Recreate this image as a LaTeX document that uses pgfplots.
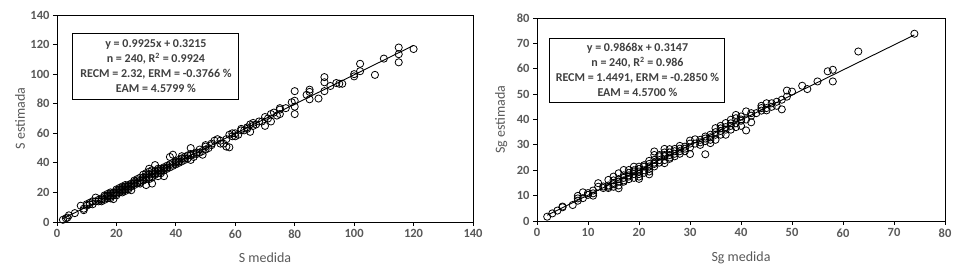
\documentclass[border=0pt]{standalone}
\usepackage{fontspec}
\setmainfont{Carlito}
\usepackage{pgfplots}
\pgfplotsset{compat=1.18}
\definecolor{txtgray}{HTML}{595959}
\definecolor{boxgray}{HTML}{404040}
\tikzset{infobox/.style={draw=black, line width=1pt, fill=white, align=center,
    inner sep=2pt, font=\fontsize{12}{15}\selectfont\bfseries, text=boxgray}}
\begin{document}
\begin{tikzpicture}
\useasboundingbox (0pt,0pt) rectangle (958pt,270pt);
\pgfplotsset{
  myax/.style={
    scale only axis,
    axis line style={black, line width=0.9pt},
    tick align=outside,
    major tick length=4pt,
    tick style={black, line width=0.8pt},
    xtick pos=bottom, ytick pos=left,
    ticklabel style={font=\fontsize{12.5}{14}\selectfont\bfseries, text=txtgray},
    /pgf/number format/assume math mode=true,
    label style={font=\fontsize{14}{16}\selectfont, text=txtgray},
    clip=false,
  },
  pts/.style={only marks, mark=o, mark size=3.6pt, black, mark options={line width=0.8pt}},
  fitl/.style={black, line width=0.9pt, no marks},
}
\begin{axis}[myax,
  at={(57pt,48pt)}, anchor=south west,
  width=416pt, height=207pt,
  xmin=0, xmax=140, ymin=0, ymax=140,
  xtick={0,20,...,140}, ytick={0,20,...,140},
  xlabel={S medida}, ylabel={S estimada},
  xlabel style={at={(axis description cs:0.5,-0.174)}, anchor=center},
  ylabel style={at={(axis description cs:-0.089,0.5)}, anchor=center},
]
\addplot[pts] coordinates {
(2,1.5)(3,2.5)(3.5,3)(4,4.5)(6,6)(8,11)(9,9)(9,8)(10,12)(10,11)(11,12)(11,13)(12,14)(12,12)(13,16.5)(13,14)(14,14)(14,15)(15,16)(16,15)(16,17)(16,18)(17,16)(17,18)(17,19)(18,17)(18,18)(18,19)(18,16)(19,15.5)(19,18)(19,20)(20,19)(20,20)(20,21)(20,22)(21,20)(21,21)(21,22)(22,21)(22,22)(22,23)(22,24)(23,22)(23,23)(23,24)(24,23)(24,24)(24,25)(25,21.5)(25,24)(25,26)(26,25)(26,27)(26,28)(27,26)(27,27)(28,27)(28,28)(28,30)(29,28)(29,30)(29,32)(30,25)(30,29)(30,31)(30,33)(31,30)(31,32)(31,36)(32,26)(32,31)(32,33)(32,35)(33,32)(33,34)(33,38.5)(34,33)(34,35)(35,34)(35,36)(36,31)(36,35)(36,37)(37,36)(37,38)(38,37)(38,44)(39,45.5)(39,38)(40,39)(40,40)(41,40)(41,42)(42,41)(42,43)(42,44.5)(43,42)(43,44)(44,43)(45,42)(45,45)(45,46)(45,50)(46,46)(47,46)(48,49)(49,45.5)(49,48)(50,49)(50,52)(51,50)(52,53)(53,55)(54,56)(55,53)(56,53)(57,51)(58,50.5)(58,59)(59,58)(60,60)(60,58)(61,59)(62,63)(63,62)(64,63)(65,61)(65,66)(66,67)(68,68)(69,68)(70,65)(70,71)(72,73)(72,68)(74,72)(75,77)(75,76)(75,73)(77,77)(79,81)(80,88.5)(80,82)(80,78)(80,73)(84,86)(85,89.5)(85,88)(85,83)(88,83.5)(90,98)(90,94.5)(90,88.5)(92,92)(94,94)(95,93.5)(96,93.5)(100,98.5)(100,100)(102,107)(102,102)(107,99.5)(110,110.5)(115,118)(115,113.5)(115,108)(120,117)
(15,14)(15,15)(17,17)(18,20)(19,19)(20,18)(21,23)(22,20)(23,21)(23,25)(24,22)(25,25)(26,26)(27,29)(28,26)(29,29)(30,30)(31,29)(31,34)(32,30)(33,33)(34,31)(34,36)(35,35)(35,33)(36,36)(37,37)(38,39)(39,40)(40,41)(41,41)(43,43)(44,45)(46,44)(47,47)(48,47)(50,51)(52,52)(55,55)(57,56)(59,60)(62,62)(64,64)(66,65)(67,66)(71,70)(73,74)
};
\addplot[fitl] coordinates {(2,2.3065)(120,119.4215)};
\node[infobox, minimum width=166pt, minimum height=66pt]
  at (axis cs:33.3,105.5)
  {y = 0.9925x + 0.3215\\ n = 240, R\textsuperscript{2} = 0.9924\\ RECM = 2.32, ERM = -0.3766 \%\\ EAM = 4.5799 \%};
\end{axis}
\begin{axis}[myax,
  at={(537pt,49pt)}, anchor=south west,
  width=408pt, height=203pt,
  xmin=0, xmax=80, ymin=0, ymax=80,
  xtick={0,10,...,80}, ytick={0,10,...,80},
  xlabel={Sg medida}, ylabel={Sg estimada},
  xlabel style={at={(axis description cs:0.5,-0.182)}, anchor=center},
  ylabel style={at={(axis description cs:-0.088,0.5)}, anchor=center},
]
\addplot[pts] coordinates {
(2,1.7)(3,3)(4,4.1)(5,5.7)(5,5.4)(7,6.3)(8,8.9)(8,9.9)(8,8)(9,11.3)(9,9)(10,10.3)(10,11)(11,10.9)(11,10)(11,12)(12,14.9)(12,13.5)(13,13.6)(13,13)(14,13)(14,14)(14,16.2)(15,15)(15,14.5)(15,17.5)(15,13.5)(16,18.8)(16,12.9)(16,15.5)(16,14)(17,16)(17,17)(17,18)(17,20.1)(18,16.5)(18,17.5)(18,19)(18,20.1)(19,17)(19,18.5)(19,19.5)(19,21.4)(20,16.6)(20,18.5)(20,19.5)(20,20.5)(20,21.4)(21,19)(21,20)(21,21.4)(22,18.4)(22,20.5)(22,21.5)(22,22.5)(22,23.7)(23,21.5)(23,22.5)(23,24.1)(23,26)(23,27.4)(24,23)(24,24)(24,25.5)(25,22.8)(25,24)(25,25.5)(25,27)(25,28.4)(26,25)(26,26)(26,27)(26,28.3)(27,25.5)(27,26.5)(27,28.4)(28,27.5)(28,28.5)(28,29.6)(29,27.5)(29,29.3)(30,26.4)(30,29)(30,30.5)(30,31.7)(31,32.2)(32,30)(32,31)(32,32)(33,26.3)(33,31.5)(33,33.3)(34,30.7)(34,33)(34,34)(35,32)(35,34)(35,35)(35,36.6)(36,34)(36,35.5)(36,37.5)(37,34)(37,36)(37,38.6)(38,36)(38,37.5)(38,39.9)(39,37)(39,38.5)(39,40.5)(39,41.8)(40,37.5)(40,39.5)(40,41.2)(41,35.7)(41,43.2)(42,38.9)(42,41.5)(42,42.5)(43,42.5)(44,44.5)(44,45.4)(45,43.6)(45,44.5)(45,46.4)(46,46.4)(47,45.4)(47,47)(48,44)(48,47.8)(49,49)(49,51.4)(50,51)(52,53.3)(53,52)(55,55)(57,59)(58,59.6)(58,55)(63,66.8)(74,73.8)
(14,13.5)(15,16)(16,16.5)(17,15.5)(18,18)(19,20)(20,17.5)(21,22)(22,19.5)(23,23)(24,26)(25,26)(26,24.5)(27,27.5)(28,26.5)(29,28.5)(31,30.5)(33,32.5)(34,32)(36,36.5)(37,37)(38,38.5)(40,40)(41,40)(44,43.5)(46,45)
};
\addplot[fitl] coordinates {(2,2.2883)(74,73.3379)};
\node[infobox, minimum width=175pt, minimum height=64pt]
  at (axis cs:19.7,59.5)
  {y = 0.9868x + 0.3147\\ n = 240, R\textsuperscript{2} = 0.986\\ RECM = 1.4491, ERM = -0.2850 \%\\ EAM = 4.5700 \%};
\end{axis}
\end{tikzpicture}
\end{document}
